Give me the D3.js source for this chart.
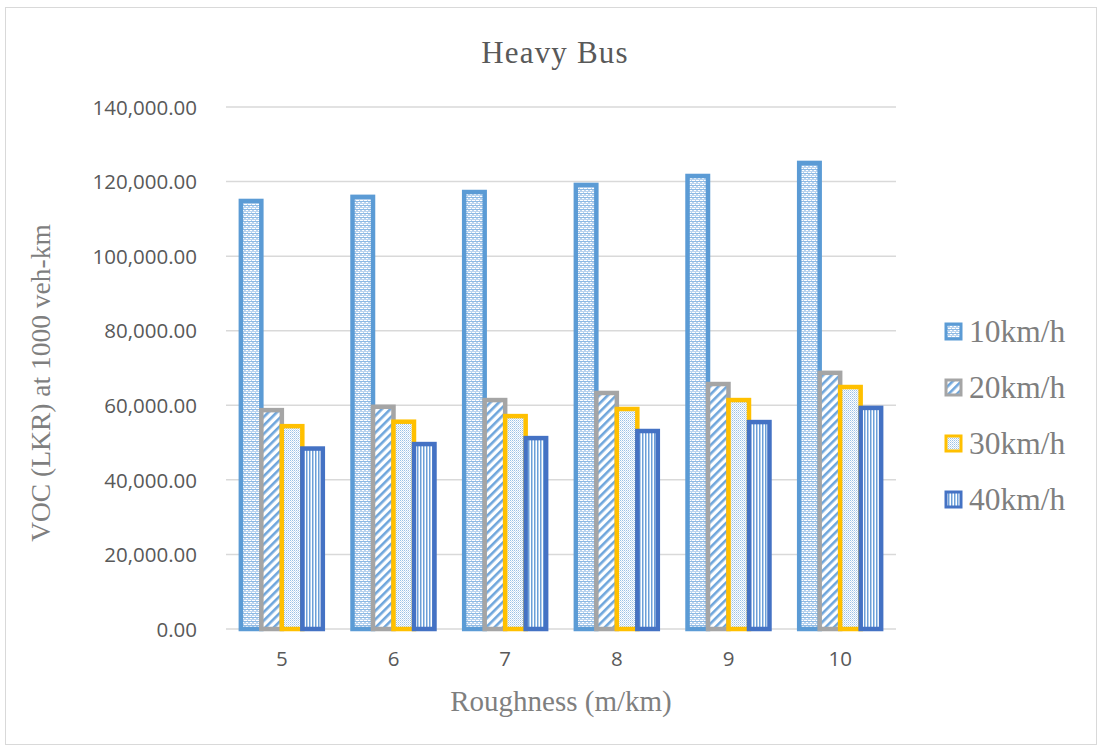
<!DOCTYPE html>
<html>
<head>
<meta charset="utf-8">
<script src="https://cdn.jsdelivr.net/npm/d3@7"></script>
<style>
html,body{margin:0;padding:0;background:#fff;}
svg{display:block;}
</style>
</head>
<body>
<svg id="chart" width="1101" height="749"></svg>
<script>
const categories = ["5","6","7","8","9","10"];
const seriesNames = ["10km/h","20km/h","30km/h","40km/h"];
const v10 = [114800, 115900, 117200, 119100, 121500, 125000];
const v20 = [58700, 59600, 61400, 63300, 65700, 68700];
const v30 = [54400, 55600, 57100, 59000, 61400, 64900];
const v40 = [48400, 49600, 51200, 53100, 55500, 59300];
const yTicks = [0, 20000, 40000, 60000, 80000, 100000, 120000, 140000];

const seriesValues = [v10, v20, v30, v40];
const strokeColors = ["#5B9BD5", "#A5A5A5", "#FFC000", "#4472C4"];
const patternIds = ["p10", "p20", "p30", "p40"];

const svg = d3.select("#chart");

// chart border
svg.append("rect").attr("x", 5.5).attr("y", 7.5).attr("width", 1091).attr("height", 737)
  .attr("fill", "#fff").attr("stroke", "#d9d9d9").attr("stroke-width", 1);

// patterns
const defs = svg.append("defs");
{
  const p = defs.append("pattern").attr("id", "p10").attr("patternUnits", "userSpaceOnUse")
    .attr("width", 4).attr("height", 4);
  p.append("rect").attr("width", 4).attr("height", 4).attr("fill", "#b9d3ee");
  p.append("rect").attr("x", 0).attr("y", 0).attr("width", 3).attr("height", 1).attr("fill", "#ffffff");
  p.append("rect").attr("x", 2).attr("y", 2).attr("width", 3).attr("height", 1).attr("fill", "#ffffff");
  p.append("rect").attr("x", 0).attr("y", 1).attr("width", 4).attr("height", 1).attr("fill", "#8ebae4");
}
{
  const p = defs.append("pattern").attr("id", "p20").attr("patternUnits", "userSpaceOnUse")
    .attr("width", 6).attr("height", 6).attr("patternTransform", "rotate(-45)");
  p.append("rect").attr("width", 6).attr("height", 6).attr("fill", "#ffffff");
  p.append("rect").attr("x", 0).attr("y", 0).attr("width", 6).attr("height", 2.6).attr("fill", "#6fa6dc");
}
{
  const p = defs.append("pattern").attr("id", "p30").attr("patternUnits", "userSpaceOnUse")
    .attr("width", 2).attr("height", 2);
  p.append("rect").attr("width", 2).attr("height", 2).attr("fill", "#ffffff");
  p.append("rect").attr("x", 0).attr("y", 0).attr("width", 1).attr("height", 1).attr("fill", "#9cc2e6");
  p.append("rect").attr("x", 1).attr("y", 1).attr("width", 1).attr("height", 1).attr("fill", "#c9ddf1");
}
{
  const p = defs.append("pattern").attr("id", "p40").attr("patternUnits", "userSpaceOnUse")
    .attr("width", 3).attr("height", 3);
  p.append("rect").attr("width", 3).attr("height", 3).attr("fill", "#ffffff");
  p.append("rect").attr("x", 0).attr("y", 0).attr("width", 1.5).attr("height", 3).attr("fill", "#6b9fd8");
}

const plotLeft = 226, plotRight = 896, plotTop = 107, plotBottom = 629;

const y = d3.scaleLinear().domain([0, 140000]).range([plotBottom, plotTop]);
const x0 = d3.scaleBand().domain(categories).range([plotLeft, plotRight])
  .paddingInner(0.266).paddingOuter(0.133);
const x1 = d3.scaleBand().domain(d3.range(4)).range([0, x0.bandwidth()]).padding(0);

// gridlines
svg.append("g").selectAll("line").data(yTicks).join("line")
  .attr("x1", plotLeft).attr("x2", plotRight)
  .attr("y1", d => y(d)).attr("y2", d => y(d))
  .attr("stroke", "#d9d9d9").attr("stroke-width", 1.5);

const tickFont = "'Open Sans', 'Liberation Sans', sans-serif";
// y axis labels
const yAxis = d3.axisLeft(y).tickValues(yTicks).tickSize(0).tickPadding(0)
  .tickFormat(d => d3.format(",.2f")(d));
const yg = svg.append("g").attr("transform", `translate(197,0)`).call(yAxis);
yg.select(".domain").remove();
yg.selectAll("text").attr("font-family", tickFont)
  .attr("font-size", 20.5).attr("fill", "#595959").attr("dy", "0.35em");

// x axis labels
const xAxis = d3.axisBottom(x0).tickSize(0).tickPadding(0);
const xg = svg.append("g").attr("transform", `translate(0,${plotBottom + 22})`).call(xAxis);
xg.select(".domain").remove();
xg.selectAll("text").attr("font-family", tickFont)
  .attr("font-size", 20.5).attr("fill", "#595959").attr("dy", "0.71em");

// bars
const sw = 4.5;
const data = [];
categories.forEach((c, i) => {
  seriesValues.forEach((vals, s) => data.push({ c, s, v: vals[i] }));
});
svg.append("g").selectAll("rect").data(data).join("rect")
  .attr("x", d => x0(d.c) + x1(d.s))
  .attr("width", x1.bandwidth())
  .attr("y", d => y(d.v))
  .attr("height", d => y(0) - y(d.v))
  .attr("fill", d => `url(#${patternIds[d.s]})`)
  .attr("stroke", d => strokeColors[d.s])
  .attr("stroke-width", sw);

const serif = "'Liberation Serif', 'Times New Roman', serif";
// title
svg.append("text").attr("x", 555).attr("y", 63).attr("text-anchor", "middle")
  .attr("font-family", serif)
  .attr("font-size", 31).attr("fill", "#595959").attr("letter-spacing", 1.2).text("Heavy Bus");

// axis titles
svg.append("text").attr("transform", `translate(50,383) rotate(-90)`).attr("text-anchor", "middle")
  .attr("font-family", serif)
  .attr("font-size", 27.5).attr("fill", "#7f7f7f").text("VOC (LKR) at 1000 veh-km");
svg.append("text").attr("x", 561).attr("y", 711).attr("text-anchor", "middle")
  .attr("font-family", serif)
  .attr("font-size", 29).attr("fill", "#7f7f7f").text("Roughness (m/km)");

// legend
const lg = svg.append("g");
seriesNames.forEach((n, i) => {
  const cy = 332 + i * 56;
  lg.append("rect").attr("x", 946).attr("y", cy - 8).attr("width", 15).attr("height", 15)
    .attr("fill", `url(#${patternIds[i]})`).attr("stroke", strokeColors[i]).attr("stroke-width", 3);
  lg.append("text").attr("x", 969).attr("y", cy + 10)
    .attr("font-family", serif)
    .attr("font-size", 31.5).attr("fill", "#7f7f7f").text(n);
});
</script>
</body>
</html>
